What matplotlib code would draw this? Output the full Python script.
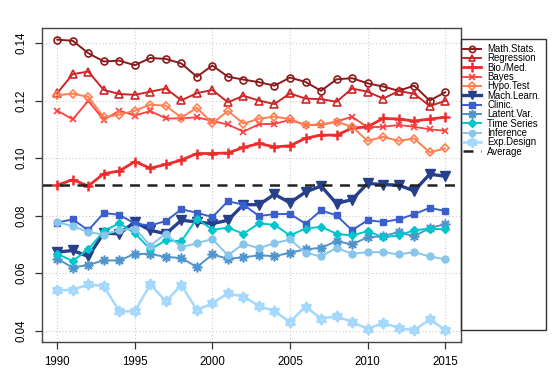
import numpy as np
import matplotlib
matplotlib.use("Agg")
import matplotlib.pyplot as plt
from matplotlib.path import Path
from matplotlib.patches import Rectangle

plt.rcParams['font.family'] = ['Liberation Sans', 'DejaVu Sans']

years = list(range(1990, 2016))

math_stats = [0.1412, 0.1408, 0.1365, 0.1336, 0.1339, 0.1323, 0.1348, 0.1345, 0.1329, 0.1283,
              0.1322, 0.1283, 0.1273, 0.1264, 0.1252, 0.1280, 0.1265, 0.1234, 0.1274, 0.1278,
              0.1260, 0.1249, 0.1234, 0.1252, 0.1200, 0.1229]
regression = [0.1226, 0.1292, 0.1301, 0.1237, 0.1223, 0.1220, 0.1231, 0.1242, 0.1201, 0.1226,
              0.1237, 0.1194, 0.1217, 0.1200, 0.1188, 0.1225, 0.1207, 0.1205, 0.1196, 0.1242,
              0.1231, 0.1207, 0.1233, 0.1224, 0.1181, 0.1199]
bio_med = [0.0906, 0.0925, 0.0903, 0.0946, 0.0955, 0.0988, 0.0965, 0.0978, 0.0993, 0.1016,
           0.1016, 0.1018, 0.1037, 0.1051, 0.1039, 0.1043, 0.1069, 0.1080, 0.1080, 0.1104,
           0.1109, 0.1138, 0.1136, 0.1129, 0.1136, 0.1142]
bayes = [0.1165, 0.1135, 0.1199, 0.1133, 0.1165, 0.1148, 0.1164, 0.1138, 0.1138, 0.1142,
         0.1129, 0.1117, 0.1092, 0.1118, 0.1119, 0.1133, 0.1115, 0.1115, 0.1127, 0.1144,
         0.1107, 0.1109, 0.1115, 0.1109, 0.1100, 0.1095]
hypo_test = [0.1219, 0.1224, 0.1213, 0.1142, 0.1151, 0.1165, 0.1186, 0.1182, 0.1141, 0.1175,
             0.1121, 0.1164, 0.1120, 0.1137, 0.1144, 0.1136, 0.1115, 0.1117, 0.1127, 0.1109,
             0.1060, 0.1074, 0.1060, 0.1068, 0.1020, 0.1034]
mach_learn = [0.0673, 0.0679, 0.0658, 0.0739, 0.0737, 0.0778, 0.0749, 0.0737, 0.0784, 0.0778,
              0.0772, 0.0784, 0.0838, 0.0838, 0.0874, 0.0845, 0.0882, 0.0903, 0.0842, 0.0856,
              0.0912, 0.0908, 0.0906, 0.0886, 0.0944, 0.0937]
clinic = [0.0776, 0.0787, 0.0749, 0.0809, 0.0803, 0.0772, 0.0766, 0.0781, 0.0822, 0.0810,
          0.0795, 0.0850, 0.0838, 0.0799, 0.0805, 0.0806, 0.0772, 0.0818, 0.0801, 0.0749,
          0.0784, 0.0778, 0.0787, 0.0805, 0.0827, 0.0816]
latent_var = [0.0650, 0.0619, 0.0629, 0.0644, 0.0644, 0.0667, 0.0667, 0.0656, 0.0653, 0.0621,
              0.0665, 0.0650, 0.0655, 0.0662, 0.0659, 0.0671, 0.0683, 0.0688, 0.0711, 0.0700,
              0.0725, 0.0728, 0.0743, 0.0728, 0.0757, 0.0770]
time_series = [0.0667, 0.0642, 0.0683, 0.0746, 0.0774, 0.0739, 0.0683, 0.0714, 0.0711, 0.0790,
               0.0751, 0.0758, 0.0737, 0.0773, 0.0768, 0.0731, 0.0755, 0.0761, 0.0737, 0.0731,
               0.0746, 0.0725, 0.0731, 0.0749, 0.0755, 0.0752]
inference = [0.0778, 0.0763, 0.0743, 0.0734, 0.0749, 0.0755, 0.0696, 0.0737, 0.0690, 0.0704,
             0.0719, 0.0662, 0.0702, 0.0687, 0.0704, 0.0717, 0.0671, 0.0658, 0.0688, 0.0667,
             0.0673, 0.0673, 0.0665, 0.0673, 0.0658, 0.0648]
exp_design = [0.0540, 0.0542, 0.0561, 0.0555, 0.0467, 0.0467, 0.0561, 0.0502, 0.0558, 0.0472,
              0.0495, 0.0530, 0.0518, 0.0487, 0.0467, 0.0430, 0.0484, 0.0442, 0.0450, 0.0430,
              0.0406, 0.0427, 0.0410, 0.0401, 0.0439, 0.0403]
average = 0.0907

labels = ["Math.Stats.", "Regression", "Bio./Med.", "Bayes", "Hypo.Test", "Mach.Learn.",
          "Clinic.", "Latent.Var.", "Time Series", "Inference", "Exp.Design"]
series = [math_stats, regression, bio_med, bayes, hypo_test, mach_learn,
          clinic, latent_var, time_series, inference, exp_design]

# star of David marker
v = [(0, 1), (-0.866, -0.5), (0.866, -0.5), (0, 1),
     (0, -1), (-0.866, 0.5), (0.866, 0.5), (0, -1)]
c = [Path.MOVETO, Path.LINETO, Path.LINETO, Path.CLOSEPOLY] * 2
hexagram = Path(v, c)

styles = [
    dict(color="#8B1A1A", marker="o", mfc="none", ms=5, mew=1.2, lw=1.4),
    dict(color="#CD2626", marker="^", mfc="none", ms=5.5, mew=1.2, lw=1.4),
    dict(color="#EE2C2C", marker="+", ms=7.5, mew=1.8, lw=2.0),
    dict(color="#FF3E3E", marker="x", ms=5, mew=1.2, lw=1.3),
    dict(color="#FF7F50", marker="D", mfc="none", ms=4.5, mew=1.2, lw=1.4),
    dict(color="#27408B", marker="v", ms=7, mew=1.0, lw=2.4),
    dict(color="#3A5FCD", marker="s", ms=4.5, mew=1.0, lw=1.4),
    dict(color="#4F94CD", marker=(8, 2, 0), ms=7, mew=1.2, lw=1.4),
    dict(color="#00C5CD", marker="D", ms=4.5, mew=1.0, lw=1.4),
    dict(color="#87C5EB", marker="o", ms=5, mew=1.0, lw=1.4),
    dict(color="#A4D8FF", marker=hexagram, mfc="none", ms=7, mew=1.7, lw=1.8),
]

fig = plt.figure(figsize=(5.58, 3.70), dpi=100)
ax = fig.add_axes([41.7 / 558, 1 - 342 / 370, (460.7 - 41.7) / 558, (342 - 28) / 370])

handles = []
for lab, s, st in zip(labels, series, styles):
    h, = ax.plot(years, s, label=lab, **st)
    handles.append(h)
h_avg = ax.axhline(average, color="#222222", lw=1.8, ls=(0, (4, 3)), label="Average")
handles.append(h_avg)

allv = np.concatenate([np.array(s) for s in series])
lo, hi = allv.min(), allv.max()
r = hi - lo
ax.set_ylim(lo - 0.04 * r, hi + 0.04 * r)
ax.set_xlim(1989, 2016)

ax.set_xticks([1990, 1995, 2000, 2005, 2010, 2015])
ax.set_yticks([0.04, 0.06, 0.08, 0.10, 0.12, 0.14])
ax.set_yticklabels(["0.04", "0.06", "0.08", "0.10", "0.12", "0.14"], rotation=90, va="center")
ax.grid(True, color="#CCCCCC", ls=(0, (1, 2)), lw=0.8)
ax.set_axisbelow(True)
ax.tick_params(axis="both", labelsize=8.3, length=5, width=0.9, color="#333333", direction="out")
ax.tick_params(axis="x", pad=5)
ax.tick_params(axis="y", pad=5.5)
for sp in ax.spines.values():
    sp.set_color("#444444")
    sp.set_linewidth(1.0)

leg = fig.legend(handles=handles, loc="upper left",
                 bbox_to_anchor=(462.5 / 558, 1 - 44 / 370),
                 frameon=False, fontsize=6.9, handlelength=1.9, handletextpad=0.7,
                 labelspacing=-0.07, borderpad=0, borderaxespad=0, markerscale=0.9)

fig.patches.append(Rectangle((460.5 / 558, 1 - 330 / 370), (546 - 460.5) / 558, (330 - 39.3) / 370,
                             transform=fig.transFigure, fill=False, ec="#333333", lw=1.0))

fig.savefig("out.png", dpi=100)
